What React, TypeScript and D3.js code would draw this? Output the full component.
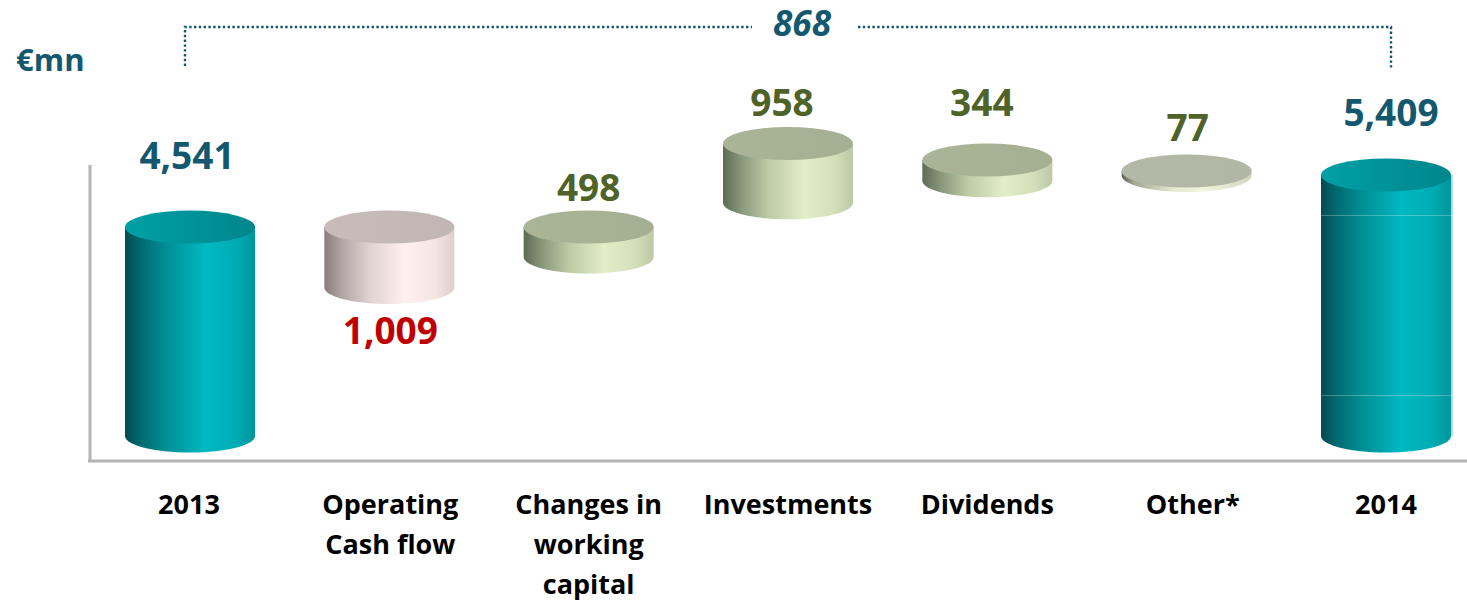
import React from "react";
import * as d3 from "d3";

const categories = ["2013", "Operating|Cash flow", "Changes in|working|capital", "Investments", "Dividends", "Other*", "2014"];
const valueLabels = ["4,541", "1,009", "498", "958", "344", "77", "5,409"];
const barTops = [4541, 4541, 4541, 5934, 5659, 5476, 5409];
const barBottoms = [1059, 3532, 4043, 4945, 5315, 5399, 1059];
const barKinds = ["total", "down", "up", "up", "up", "flat", "total"];
const bridgeLabel = "868";
const unitLabel = "€mn";

const W = 1467;
const H = 601;
const RX = 65;
const RY = 16.5;
const FONT = "'Open Sans', sans-serif";
const TEAL = "#14586f";
const OLIVE = "#4f6228";
const RED = "#c00000";

const x = d3.scalePoint<string>().domain(categories).range([190, 1386]);
const y = d3.scaleLinear().domain([1059, 5409]).range([436, 175]);

const labelBaselines = [169, 344, 201, 116, 116, 141, 126];
const labelShifts = [-3, 1, 0, -6, -5.5, 1, 5];
const categoryShifts = [-1, 1, 0, 0, 0, 6, 0];

const palettes: Record<string, { stops: [number, string][]; top: [string, string]; text: string }> = {
  total: {
    stops: [[0, "#024a50"], [0.12, "#016a70"], [0.3, "#008c92"], [0.62, "#00b9c1"], [0.85, "#00acb4"], [1, "#00959c"]],
    top: ["#00a0a6", "#00868c"],
    text: TEAL,
  },
  down: {
    stops: [[0, "#8a7d7e"], [0.15, "#b5a8a8"], [0.35, "#e0d2d0"], [0.62, "#fff0ee"], [0.85, "#f5e6e4"], [1, "#ddcfce"]],
    top: ["#c8bcbb", "#c2b6b5"],
    text: RED,
  },
  up: {
    stops: [[0, "#5e6b54"], [0.15, "#8b9a7c"], [0.35, "#bccaa6"], [0.62, "#e3edc8"], [0.85, "#d5e0bb"], [1, "#bcc8a6"]],
    top: ["#aab597", "#a5af91"],
    text: OLIVE,
  },
  flat: {
    stops: [[0, "#5f6356"], [0.1, "#a5a894"], [0.4, "#e6e9d2"], [0.62, "#f2f5dd"], [1, "#d2d5c0"]],
    top: ["#b4b8a7", "#b2b6a4"],
    text: OLIVE,
  },
};

function sidePath(cx: number, yTop: number, yBot: number) {
  const k = 0.5523;
  return (
    `M${cx - RX},${yTop} L${cx - RX},${yBot} ` +
    `C${cx - RX},${yBot + k * RY} ${cx - k * RX},${yBot + RY} ${cx},${yBot + RY} ` +
    `C${cx + k * RX},${yBot + RY} ${cx + RX},${yBot + k * RY} ${cx + RX},${yBot} ` +
    `L${cx + RX},${yTop} Z`
  );
}

export default function App() {
  return (
    <svg
      width={W}
      height={H}
      viewBox={`0 0 ${W} ${H}`}
      style={{ position: "absolute", left: 0, top: 0, background: "#fff" }}
    >
      <defs>
        {Object.entries(palettes).map(([k, p]) => (
          <React.Fragment key={k}>
            <linearGradient id={`side-${k}`} x1="0" x2="1" y1="0" y2="0">
              {p.stops.map(([o, c]) => (
                <stop key={o} offset={o} stopColor={c} />
              ))}
            </linearGradient>
            <linearGradient id={`top-${k}`} x1="0" x2="1" y1="0" y2="0">
              <stop offset="0" stopColor={p.top[0]} />
              <stop offset="1" stopColor={p.top[1]} />
            </linearGradient>
          </React.Fragment>
        ))}
      </defs>

      <line x1={90} x2={90} y1={165} y2={462} stroke="#b4b4b4" strokeWidth={3} />
      <line x1={88} x2={W} y1={461} y2={461} stroke="#b4b4b4" strokeWidth={3} />

      {categories.map((c, i) => {
        const cx = x(c)!;
        const yT = y(barTops[i]);
        const yB = y(barBottoms[i]);
        const kind = barKinds[i];
        return (
          <g key={c}>
            {i === categories.length - 1 && (
              <rect x={cx + RX - 1} y={yT} width={3} height={yB - yT} fill="#b5dbde" />
            )}
            <path d={sidePath(cx, yT, yB)} fill={`url(#side-${kind})`} />
            <ellipse cx={cx} cy={yT} rx={RX} ry={RY} fill={`url(#top-${kind})`} />
            {i === categories.length - 1 &&
              [0.155, 0.845].map((f) => (
                <line
                  key={f}
                  x1={cx - RX}
                  x2={cx + RX + 2}
                  y1={yT + (yB - yT) * f}
                  y2={yT + (yB - yT) * f}
                  stroke="#ffffff"
                  strokeOpacity={0.28}
                />
              ))}
          </g>
        );
      })}

      {categories.map((c, i) => (
        <text
          key={c}
          x={x(c)! + labelShifts[i]}
          y={labelBaselines[i]}
          textAnchor="middle"
          fontFamily={FONT}
          fontWeight={700}
          fontSize={37}
          fill={palettes[barKinds[i]].text}
        >
          {valueLabels[i]}
        </text>
      ))}

      {categories.map((c, i) =>
        c.split("|").map((line, j) => (
          <text
            key={line}
            x={x(c)! + categoryShifts[i]}
            y={514 + j * 40}
            textAnchor="middle"
            fontFamily={FONT}
            fontWeight={700}
            fontSize={27}
            fill="#000"
          >
            {line}
          </text>
        ))
      )}

      <text x={16} y={71} fontFamily={FONT} fontWeight={700} fontSize={31} fill={TEAL}>
        {unitLabel}
      </text>

      <path
        d="M185,66 V27 H752 M858,27 H1391 V70"
        fill="none"
        stroke={TEAL}
        strokeWidth={2.4}
        strokeDasharray="2.4 2.4"
      />
      <text
        x={802}
        y={36}
        textAnchor="middle"
        fontFamily={FONT}
        fontWeight={700}
        fontStyle="italic"
        fontSize={35}
        fill={TEAL}
      >
        {bridgeLabel}
      </text>
    </svg>
  );
}
